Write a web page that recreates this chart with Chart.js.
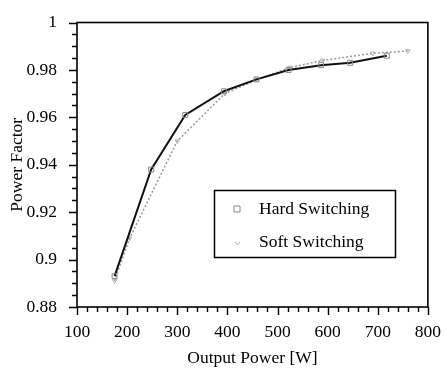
<!DOCTYPE html>
<html>
<head>
<meta charset="utf-8">
<script src="https://cdn.jsdelivr.net/npm/chart.js@4/dist/chart.umd.min.js"></script>
<style>
  html, body { margin: 0; padding: 0; background: #fff; }
  canvas { display: block; }
</style>
</head>
<body>
<canvas id="pfChart" width="448" height="370" style="width:448px;height:370px"></canvas>
<script>
// Power factor vs output power
const hardPower = [175, 248, 316, 393, 458, 522, 587, 645, 718];
const hardPF    = [0.893, 0.938, 0.961, 0.971, 0.976, 0.980, 0.982, 0.983, 0.986];
const softPower = [175, 205, 300, 395, 460, 525, 590, 690, 760];
const softPF    = [0.891, 0.909, 0.950, 0.970, 0.976, 0.981, 0.984, 0.987, 0.988];

const seriesLabels = ['Hard Switching', 'Soft Switching'];
const xTickValues = [100, 200, 300, 400, 500, 600, 700, 800];
const yTickValues = [0.88, 0.9, 0.92, 0.94, 0.96, 0.98, 1];

const FONT = 'Liberation Serif';
const FSIZE = 17.5;

function toPoints(xs, ys) {
  return xs.map((x, i) => ({ x: x, y: ys[i] }));
}

/**
 * Frame around plot area plus outward major/minor tick marks
 */
const framePlugin = {
  id: 'frame',
  afterDraw(chart) {
    const ctx = chart.ctx;
    const a = chart.chartArea;
    const xs = chart.scales.x;
    const ys = chart.scales.y;
    ctx.save();
    ctx.strokeStyle = '#000';
    ctx.lineWidth = 1.6;
    ctx.strokeRect(a.left, a.top, a.right - a.left, a.bottom - a.top);

    ctx.lineWidth = 1.4;
    ctx.beginPath();
    // x ticks every 20 W, major every 100
    for (let i = 0; i <= 35; i++) {
      const v = 100 + 20 * i;
      const px = Math.round(xs.getPixelForValue(v)) + 0.5;
      const len = (i % 5 === 0) ? 8 : 5;
      ctx.moveTo(px, a.bottom);
      ctx.lineTo(px, a.bottom + len);
    }
    // y ticks every 0.005, major every 0.02
    for (let i = 0; i <= 24; i++) {
      const v = 0.88 + 0.005 * i;
      const py = Math.round(ys.getPixelForValue(v)) + 0.5;
      const len = (i % 4 === 0) ? 8 : 5;
      ctx.moveTo(a.left, py);
      ctx.lineTo(a.left - len, py);
    }
    ctx.stroke();
    ctx.restore();
  }
};

/**
 * Boxed legend inside the plot, lower right
 */
const legendBoxPlugin = {
  id: 'legendBox',
  afterDraw(chart) {
    const ctx = chart.ctx;
    ctx.save();
    ctx.strokeStyle = '#000';
    ctx.lineWidth = 1.5;
    ctx.strokeRect(214.5, 190.5, 181, 67);

    ctx.font = FSIZE + 'px "' + FONT + '"';
    ctx.fillStyle = '#000';
    ctx.textBaseline = 'middle';
    const rows = [209, 242];
    chart.data.datasets.forEach((ds, i) => {
      const y = rows[i];
      ctx.strokeStyle = ds.pointBorderColor;
      ctx.lineWidth = 1;
      ctx.beginPath();
      if (i === 0) {
        ctx.rect(234, y - 3, 6, 6);
      } else {
        ctx.moveTo(235, y);
        ctx.lineTo(237.5, y + 3);
        ctx.lineTo(240, y);
      }
      ctx.stroke();
      ctx.fillText(ds.label, 259, y);
    });
    ctx.restore();
  }
};

new Chart(document.getElementById('pfChart'), {
  type: 'line',
  data: {
    datasets: [{
      label: seriesLabels[0],
      data: toPoints(hardPower, hardPF),
      borderColor: '#111',
      borderWidth: 2,
      pointStyle: 'rect',
      pointRadius: 3.5,
      pointBorderWidth: 1,
      pointBorderColor: '#888',
      pointBackgroundColor: 'rgba(255,255,255,0)',
      tension: 0
    }, {
      label: seriesLabels[1],
      data: toPoints(softPower, softPF),
      borderColor: '#9a9a9a',
      borderWidth: 1.5,
      borderDash: [2, 2],
      pointStyle: 'triangle',
      pointRotation: 180,
      pointRadius: 2.5,
      pointBorderWidth: 1,
      pointBorderColor: '#b0b0b0',
      pointBackgroundColor: 'rgba(255,255,255,0)',
      tension: 0
    }]
  },
  options: {
    responsive: false,
    animation: false,
    layout: { padding: { top: 13.5, right: 12, left: 0, bottom: 0 } },
    plugins: {
      legend: { display: false },
      tooltip: { enabled: false }
    },
    scales: {
      x: {
        type: 'linear',
        min: 100,
        max: 800,
        afterFit: (scale) => { scale.height = 63; },
        afterBuildTicks: (scale) => { scale.ticks = xTickValues.map(v => ({ value: v })); },
        grid: { display: false },
        border: { display: false },
        ticks: {
          padding: 7,
          color: '#000',
          font: { family: FONT, size: FSIZE },
          callback: (v) => String(v)
        },
        title: {
          display: true,
          text: 'Output Power [W]',
          color: '#000',
          font: { family: FONT, size: FSIZE },
          padding: { top: 0, bottom: 1 }
        }
      },
      y: {
        type: 'linear',
        min: 0.88,
        max: 1,
        afterFit: (scale) => { scale.width = 77; },
        afterBuildTicks: (scale) => { scale.ticks = yTickValues.map(v => ({ value: v })); },
        grid: { display: false },
        border: { display: false },
        ticks: {
          padding: 12,
          color: '#000',
          font: { family: FONT, size: FSIZE },
          callback: (v) => String(+v.toFixed(2))
        },
        title: {
          display: true,
          text: 'Power Factor',
          color: '#000',
          font: { family: FONT, size: FSIZE },
          padding: { top: 7, bottom: 0 }
        }
      }
    }
  },
  plugins: [framePlugin, legendBoxPlugin]
});
</script>
</body>
</html>
